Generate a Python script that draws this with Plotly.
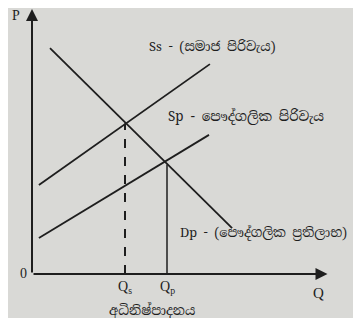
"""
plot.py — 外部成本：私人供給 Sp、社會供給 Ss 與需求 Dp
"""
import plotly.graph_objects as go

# 曲線端點（Q, P）
ss_q = [0.23, 5.93]
ss_p = [3.37, 7.95]
sp_q = [0.23, 5.90]
sp_p = [1.36, 5.27]
dp_q = [0.60, 6.67]
dp_p = [8.56, 1.74]

# 均衡點
q_social, p_social = 3.10, 5.70
q_private, p_private = 4.50, 4.15

# 文字
label_ss = 'Ss - (සමාජ පිරිවැය)'
label_sp = 'Sp - පෞද්ගලික පිරිවැය'
label_dp = 'Dp - (පෞද්ගලික ප්‍රතිලාභ)'
label_over = 'අධිනිෂ්පාදනය'

INK = '#1e1e1e'
BG = '#d9d9d6'
SERIF = 'Liberation Serif, Times New Roman, serif'
SINHALA = 'Noto Serif Sinhala, Noto Sans Sinhala, Liberation Serif, serif'

fig = go.Figure()

for q, p in [(ss_q, ss_p), (sp_q, sp_p), (dp_q, dp_p)]:
    fig.add_trace(go.Scatter(x=q, y=p, mode='lines',
                             line=dict(color=INK, width=1.8), hoverinfo='skip'))

# 垂直線：社會最適（虛線）與私人均衡（實線）
fig.add_trace(go.Scatter(x=[q_social, q_social], y=[0, p_social], mode='lines',
                         line=dict(color=INK, width=2, dash='dash'), hoverinfo='skip'))
fig.add_trace(go.Scatter(x=[q_private, q_private], y=[0, p_private], mode='lines',
                         line=dict(color=INK, width=1.5), hoverinfo='skip'))

# 座標軸箭頭
fig.add_annotation(x=9.85, y=0, ax=0, ay=0, xref='x', yref='y', axref='x', ayref='y',
                   showarrow=True, arrowhead=2, arrowsize=1.2, arrowwidth=2, arrowcolor=INK, text='')
fig.add_annotation(x=0, y=10.04, ax=0, ay=0, xref='x', yref='y', axref='x', ayref='y',
                   showarrow=True, arrowhead=2, arrowsize=1.2, arrowwidth=2, arrowcolor=INK, text='')

texts = [
    ('P', -0.53, 9.81, 'center', SERIF, 14),
    ('0', -0.3, 0.0, 'center', SERIF, 14),
    ('Q', 9.55, -0.72, 'center', SERIF, 15),
    ('Q<sub>s</sub>', q_social, -0.53, 'center', SERIF, 14),
    ('Q<sub>p</sub>', q_private, -0.53, 'center', SERIF, 14),
    (label_over, 4.0, -1.40, 'center', SINHALA, 13),
    (label_ss, 3.83, 8.6, 'left', SINHALA, 13),
    (label_sp, 4.45, 5.95, 'left', SINHALA, 13.5),
    (label_dp, 4.88, 1.59, 'left', SINHALA, 12.8),
]
for t, x, y, anchor, fam, size in texts:
    fig.add_annotation(x=x, y=y, xref='x', yref='y', text=t, showarrow=False,
                       xanchor=anchor, yanchor='middle',
                       font=dict(family=fam, size=size, color=INK))

# 頁面 body 預設留白 8px，圖表縮小以完整顯示於視窗內
fig.update_layout(
    width=345, height=310,
    margin=dict(l=0, r=0, t=0, b=0),
    paper_bgcolor=BG, plot_bgcolor=BG,
    showlegend=False,
    xaxis=dict(range=[-0.8, 10.7], visible=False, fixedrange=True),
    yaxis=dict(range=[-1.667, 10.076], visible=False, fixedrange=True),
)

fig.write_html('out.html')
